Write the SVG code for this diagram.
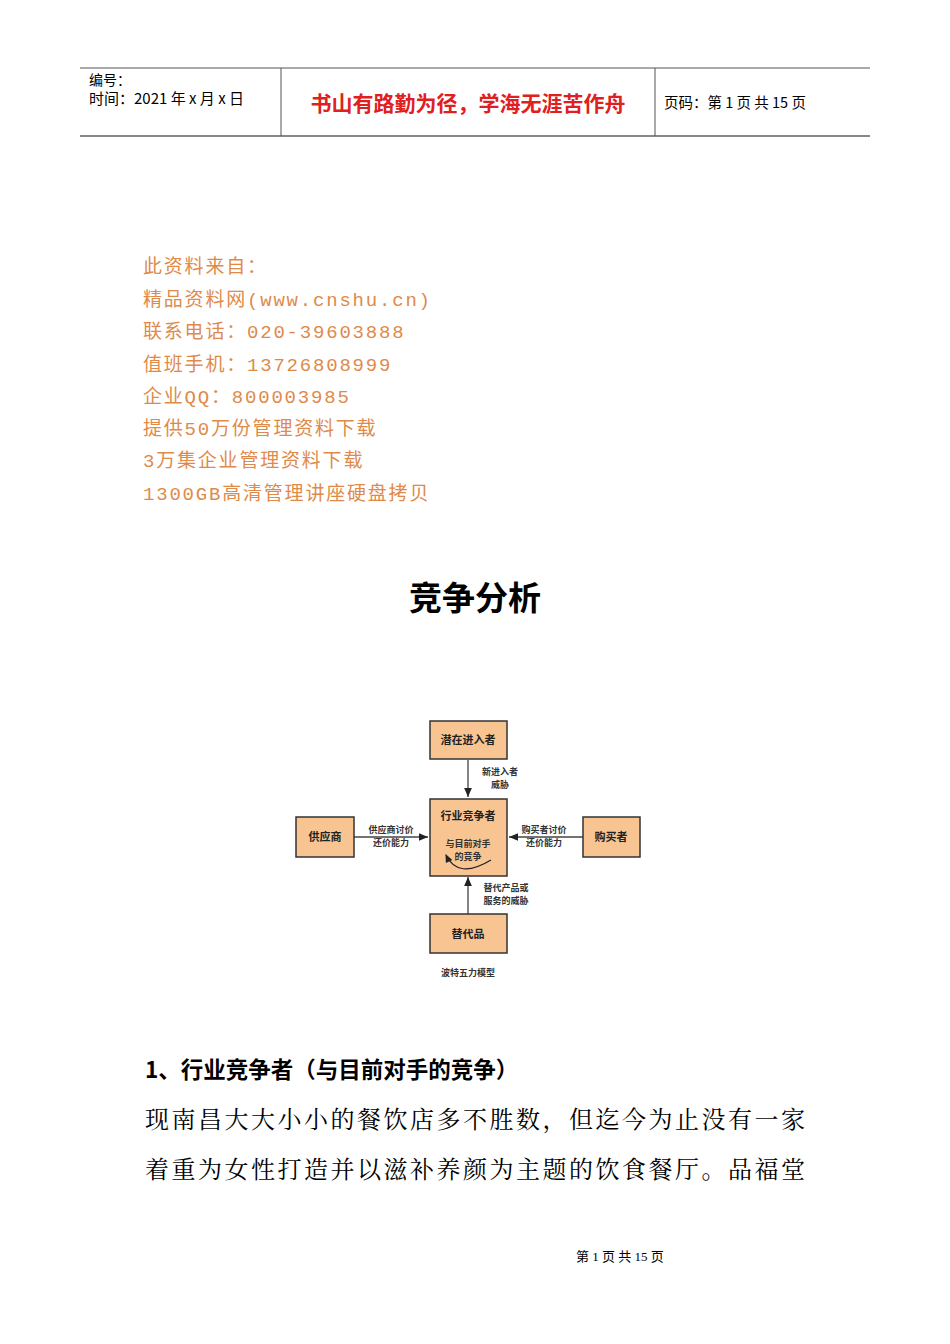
<svg xmlns="http://www.w3.org/2000/svg" width="950" height="1344" viewBox="0 0 950 1344">
<style>
.s{font-family:"Noto Sans CJK SC","Liberation Sans",sans-serif}
.o{font-family:"Liberation Mono","Noto Sans CJK SC",monospace;fill:#e08a4a;font-size:19px;letter-spacing:1.8px}
.b{fill:#f8c592;stroke:#333;stroke-width:1.5}
.n{font-family:"Noto Sans CJK SC",sans-serif;font-size:11px;font-weight:bold;fill:#222;text-anchor:middle}
.l{font-family:"Noto Sans CJK SC",sans-serif;font-size:9px;font-weight:bold;fill:#333;text-anchor:middle}
.c{stroke:#444;stroke-width:1.3;fill:none}
</style>
<defs><marker id="a" markerWidth="8" markerHeight="8" refX="7" refY="4" orient="auto"><path d="M0,1 L7,4 L0,7z" fill="#222"/></marker>
<marker id="s" markerWidth="8" markerHeight="8" refX="1" refY="4" orient="auto"><path d="M7,1 L0,4 L7,7z" fill="#222"/></marker></defs>
<rect width="950" height="1344" fill="#fff"/>
<g id="header">
<line x1="80" y1="68" x2="870" y2="68" stroke="#555" stroke-width="1.2"/>
<line x1="80" y1="136" x2="870" y2="136" stroke="#888" stroke-width="2"/>
<line x1="281" y1="68" x2="281" y2="136" stroke="#555"/>
<line x1="655" y1="68" x2="655" y2="136" stroke="#555"/>
<text x="89" y="85" class="s" font-size="14">编号：</text>
<text x="89" y="104" class="s" font-size="15">时间：2021 年 x 月 x 日</text>
<text x="468" y="111" class="s" font-size="21" font-weight="bold" fill="#e02020" text-anchor="middle">书山有路勤为径，学海无涯苦作舟</text>
<text x="664" y="108" class="s" font-size="14.5">页码：第 1 页  共 15 页</text>
</g>
<g id="source">
<text x="143" y="273" class="o">此资料来自：</text>
<text x="143" y="306" class="o">精品资料网(www.cnshu.cn)</text>
<text x="143" y="338" class="o">联系电话：020-39603888</text>
<text x="143" y="371" class="o">值班手机：13726808999</text>
<text x="143" y="403" class="o">企业QQ：800003985</text>
<text x="143" y="435" class="o">提供50万份管理资料下载</text>
<text x="143" y="467" class="o">3万集企业管理资料下载</text>
<text x="143" y="500" class="o">1300GB高清管理讲座硬盘拷贝</text>
</g>
<text x="475" y="610" class="s" font-size="33" font-weight="bold" text-anchor="middle">竞争分析</text>
<g id="connectors">
<line class="c" x1="468" y1="760" x2="468" y2="797" marker-end="url(#a)"/>
<line class="c" x1="354" y1="837" x2="428" y2="837" marker-end="url(#a)"/>
<line class="c" x1="583" y1="837" x2="509" y2="837" marker-end="url(#a)"/>
<line class="c" x1="468" y1="914" x2="468" y2="877" marker-end="url(#a)"/>
<text class="l" x="500" y="775">新进入者</text><text class="l" x="500" y="788">威胁</text>
<text class="l" x="391" y="833">供应商讨价</text><text class="l" x="391" y="846">还价能力</text>
<text class="l" x="544" y="833">购买者讨价</text><text class="l" x="544" y="846">还价能力</text>
<text class="l" x="506" y="891">替代产品或</text><text class="l" x="506" y="904">服务的威胁</text>
</g>
<g id="n1"><rect class="b" x="430" y="721" width="77" height="38"/><text class="n" x="468" y="744">潜在进入者</text></g>
<g id="n2"><rect class="b" x="430" y="799" width="77" height="77"/><text class="n" x="468" y="820">行业竞争者</text><text class="l" x="468" y="847">与目前对手</text><text class="l" x="468" y="860">的竞争</text>
<path d="M446,855 Q458,880 491,860" stroke="#222" stroke-width="1.2" fill="none" marker-start="url(#s)"/></g>
<g id="n3"><rect class="b" x="296" y="817" width="58" height="40"/><text class="n" x="325" y="841">供应商</text></g>
<g id="n4"><rect class="b" x="583" y="817" width="57" height="40"/><text class="n" x="611" y="841">购买者</text></g>
<g id="n5"><rect class="b" x="430" y="914" width="77" height="39"/><text class="n" x="468" y="938">替代品</text></g>
<text class="l" x="468" y="976">波特五力模型</text>
<text x="145" y="1078" class="s" font-size="22.5" font-weight="bold">1、行业竞争者（与目前对手的竞争）</text>
<text x="145" y="1128" font-family="Noto Serif CJK SC,Noto Sans CJK SC,serif" font-size="24" textLength="660" lengthAdjust="spacing">现南昌大大小小的餐饮店多不胜数，但迄今为止没有一家</text>
<text x="145" y="1178" font-family="Noto Serif CJK SC,Noto Sans CJK SC,serif" font-size="24" textLength="660" lengthAdjust="spacing">着重为女性打造并以滋补养颜为主题的饮食餐厅。品福堂</text>
<text x="620" y="1261" font-family="Liberation Serif,Noto Sans CJK SC,serif" font-size="13" text-anchor="middle">第  1  页  共  15  页</text>
</svg>
